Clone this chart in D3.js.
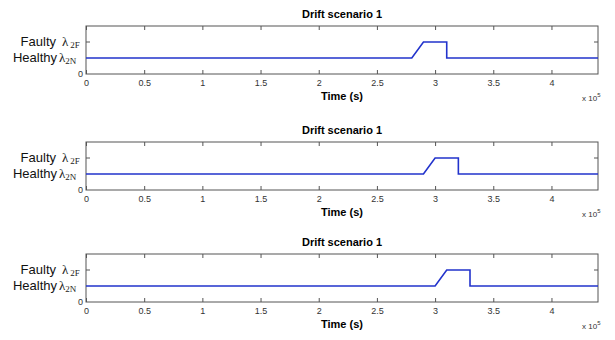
<!DOCTYPE html>
<html>
<head>
<meta charset="utf-8">
<script src="https://cdn.jsdelivr.net/npm/d3@7"></script>
<style>
	body { margin: 0; background: #fff; }
	svg { display: block; }
	.tick text { font-family: "Liberation Sans", Arial, sans-serif; font-size: 9px; fill: #333; }
</style>
</head>
<body>
<svg id="chart" width="615" height="340"></svg>
<script>
// Drift scenarios: time (s) and state (1 = healthy, 2 = faulty)
var titles = ["Drift scenario 1", "Drift scenario 1", "Drift scenario 1"];
var time1 = [0, 2.8e5, 2.9e5, 3.1e5, 3.1e5, 4.4e5];
var state1 = [1, 1, 2, 2, 1, 1];
var time2 = [0, 2.9e5, 3.0e5, 3.2e5, 3.2e5, 4.4e5];
var state2 = [1, 1, 2, 2, 1, 1];
var time3 = [0, 3.0e5, 3.1e5, 3.3e5, 3.3e5, 4.4e5];
var state3 = [1, 1, 2, 2, 1, 1];
var xTicks = [0, 0.5, 1, 1.5, 2, 2.5, 3, 3.5, 4];
var xDomain = [0, 4.4e5];
var yDomain = [0, 3];

var svg = d3.select("#chart");
var left = 86, right = 598, h = 48;
var tops = [26, 142, 254];

var x = d3.scaleLinear().domain(xDomain).range([left, right]);

var series = [
	{ t: time1, v: state1 },
	{ t: time2, v: state2 },
	{ t: time3, v: state3 }
];

series.forEach(function(s, i) {
	var top = tops[i];
	var y = d3.scaleLinear().domain(yDomain).range([top + h, top]);
	var g = svg.append("g").attr("class", "panel");

	// plot box
	g.append("rect")
		.attr("x", left).attr("y", top)
		.attr("width", right - left).attr("height", h)
		.attr("fill", "none")
		.attr("stroke", "#555")
		.attr("stroke-width", 1);

	// bottom axis, ticks pointing inward
	var xb = g.append("g")
		.attr("transform", "translate(0," + (top + h) + ")")
		.call(d3.axisBottom(x)
			.tickValues(xTicks.map(function(d) { return d * 1e5; }))
			.tickSize(-4)
			.tickPadding(6)
			.tickFormat(function(d) { return d3.format("")(d / 1e5); }));
	xb.select(".domain").remove();
	xb.selectAll(".tick line").attr("stroke", "#555");

	// top ticks
	var xt = g.append("g")
		.attr("transform", "translate(0," + top + ")")
		.call(d3.axisTop(x)
			.tickValues(xTicks.map(function(d) { return d * 1e5; }))
			.tickSize(-4)
			.tickFormat(""));
	xt.select(".domain").remove();
	xt.selectAll(".tick line").attr("stroke", "#555");

	// y ticks at faulty level, both sides
	[left, right].forEach(function(px, k) {
		g.append("line")
			.attr("x1", px).attr("x2", k === 0 ? px + 4 : px - 4)
			.attr("y1", y(2)).attr("y2", y(2))
			.attr("stroke", "#555");
	});

	g.append("text")
		.attr("x", left - 3).attr("y", y(0) + 3)
		.attr("text-anchor", "end")
		.style("font-family", "Liberation Sans, Arial, sans-serif")
		.style("font-size", "9px").attr("fill", "#333")
		.text("0");

	// y labels
	var labels = [
		{ word: "Faulty", sub: "2F", val: 2, wx: 56, lx: 62 },
		{ word: "Healthy", sub: "2N", val: 1, wx: 57, lx: 59 }
	];
	labels.forEach(function(l) {
		var base = y(l.val) + 4;
		g.append("text")
			.attr("x", l.wx).attr("y", base)
			.attr("text-anchor", "end")
			.style("font-family", "Liberation Sans, Arial, sans-serif")
			.style("font-size", "13px").attr("fill", "#111")
			.text(l.word);
		var t = g.append("text")
			.attr("x", l.lx).attr("y", base)
			.style("font-family", "Liberation Serif, Times New Roman, serif")
			.attr("fill", "#222");
		t.append("tspan").style("font-size", "13px").text("λ");
		t.append("tspan").attr("dx", l.val === 2 ? 2 : 0).attr("dy", 2)
			.style("font-size", "9px").text(l.sub);
	});

	// signal
	var line = d3.line()
		.x(function(d) { return x(d[0]); })
		.y(function(d) { return y(d[1]); });
	g.append("path")
		.datum(d3.zip(s.t, s.v))
		.attr("d", line)
		.attr("fill", "none")
		.attr("stroke", "#2233cc")
		.attr("stroke-width", 1.6);

	// title
	g.append("text")
		.attr("x", (left + right) / 2).attr("y", top - 8)
		.attr("text-anchor", "middle")
		.style("font-family", "Liberation Sans, Arial, sans-serif")
		.style("font-size", "11px").style("font-weight", "bold")
		.text(titles[i]);

	// x label
	g.append("text")
		.attr("x", (left + right) / 2).attr("y", top + h + 26)
		.attr("text-anchor", "middle")
		.style("font-family", "Liberation Sans, Arial, sans-serif")
		.style("font-size", "11px").style("font-weight", "bold")
		.text("Time (s)");

	// exponent
	var e = g.append("text")
		.attr("x", 582).attr("y", top + h + 27)
		.style("font-family", "Liberation Sans, Arial, sans-serif")
		.style("font-size", "8px").attr("fill", "#333");
	e.append("tspan").text("x 10");
	e.append("tspan").attr("dy", -4).style("font-size", "6px").text("5");
});
</script>
</body>
</html>
